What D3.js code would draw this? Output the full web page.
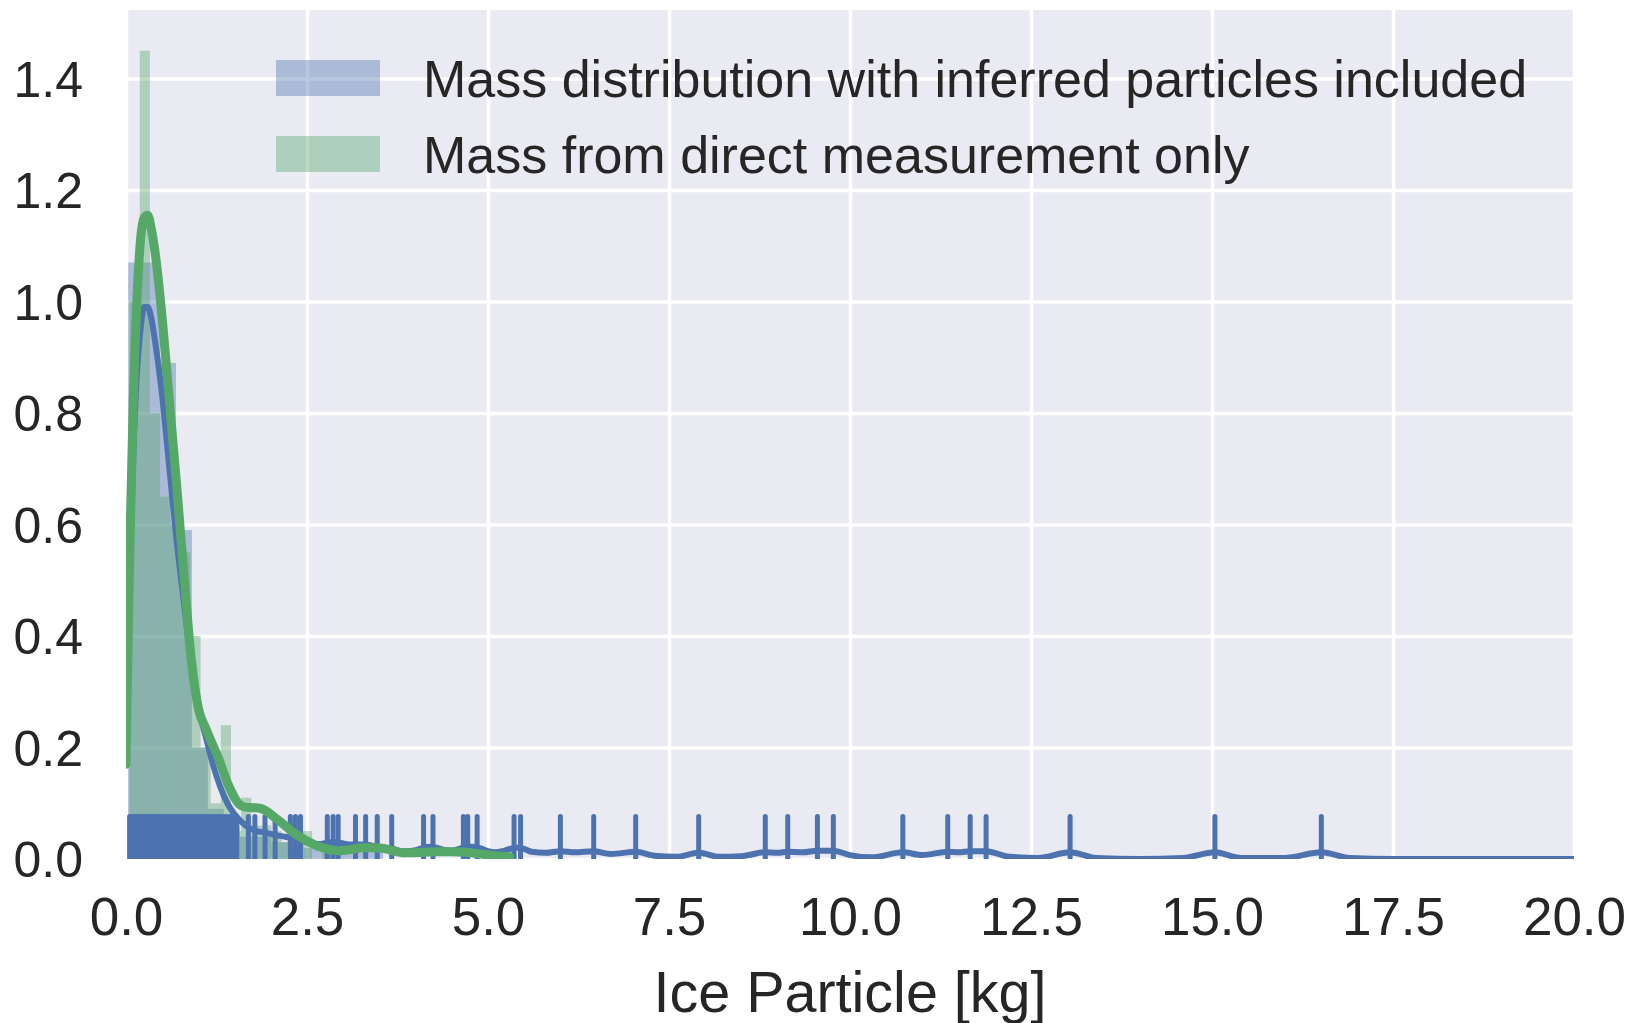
<!DOCTYPE html>
<html>
<head>
<meta charset="utf-8">
<script src="https://cdn.jsdelivr.net/npm/d3@7"></script>
<style>
  html, body { margin: 0; padding: 0; background: #ffffff; }
  svg text { font-family: "Liberation Sans", Arial, Helvetica, sans-serif; fill: #262626; }
</style>
</head>
<body>
<svg id="chart" width="1637" height="1023"></svg>
<script>
// ---- data ----
const xTicks = [0, 2.5, 5, 7.5, 10, 12.5, 15, 17.5, 20];
const yTicks = [0, 0.2, 0.4, 0.6, 0.8, 1.0, 1.2, 1.4];
const seriesNames = ["Mass distribution with inferred particles included", "Mass from direct measurement only"];

// histogram of all particles (bin left edges, shared width, density heights)
const blueBinStart = [0.03, 0.25, 0.47, 0.69, 0.91, 1.13, 1.35, 1.57, 1.79, 2.01, 2.23, 2.45, 2.67, 2.89, 3.11, 3.33];
const blueBinWidth = 0.22;
const blueHeights = [1.07, 1.07, 0.89, 0.59, 0.2, 0.09, 0.06, 0.04, 0.04, 0.03, 0.04, 0.02, 0.03, 0.03, 0.02, 0.02];

// histogram of directly measured particles
const greenBinStart = [0.05, 0.19, 0.33, 0.47, 0.61, 0.75, 0.89, 1.03, 1.17, 1.31, 1.45, 1.59, 1.73, 1.87, 2.01, 2.15, 2.29, 2.43, 2.57, 2.71];
const greenBinWidth = 0.14;
const greenHeights = [1.0, 1.45, 0.8, 0.65, 0.6, 0.55, 0.4, 0.2, 0.1, 0.24, 0.05, 0.11, 0.06, 0.06, 0.05, 0.03, 0.02, 0.05, 0.0, 0.02];

// kernel density estimate, all particles
const blueKdeX = [0, 0.05, 0.1, 0.15, 0.2, 0.25, 0.3, 0.35, 0.4, 0.5, 0.6, 0.7, 0.8, 0.9, 1.0, 1.1, 1.2, 1.3, 1.4, 1.5, 1.6, 1.7, 1.8, 1.9, 2.0, 2.1, 2.2, 2.3, 2.4, 2.5, 2.6, 2.7, 2.8, 2.9, 3.0, 3.1, 3.2, 3.3, 3.4, 3.5, 3.6, 3.7, 3.8, 3.9, 4.0, 4.1, 4.2, 4.3, 4.4, 4.5, 4.6, 4.7, 4.8, 4.9, 5.0, 5.1, 5.2, 5.3, 5.4, 5.5, 5.6, 5.8, 6.0, 6.2, 6.45, 6.7, 7.04, 7.3, 7.6, 7.91, 8.2, 8.5, 8.83, 9.0, 9.14, 9.35, 9.55, 9.77, 10.0, 10.3, 10.73, 11.0, 11.35, 11.5, 11.66, 11.88, 12.2, 12.6, 13.04, 13.4, 14.0, 14.6, 15.04, 15.4, 16.0, 16.51, 16.9, 17.5, 20];
const blueKdeY = [0.25, 0.5, 0.72, 0.87, 0.95, 0.99, 0.99, 0.97, 0.93, 0.83, 0.7, 0.57, 0.46, 0.35, 0.27, 0.22, 0.17, 0.13, 0.1, 0.08, 0.066, 0.056, 0.05, 0.048, 0.045, 0.042, 0.04, 0.038, 0.035, 0.03, 0.027, 0.027, 0.03, 0.03, 0.028, 0.026, 0.026, 0.026, 0.024, 0.022, 0.02, 0.018, 0.014, 0.014, 0.016, 0.02, 0.022, 0.02, 0.016, 0.015, 0.018, 0.022, 0.022, 0.019, 0.014, 0.012, 0.014, 0.018, 0.02, 0.018, 0.013, 0.011, 0.014, 0.012, 0.014, 0.009, 0.013, 0.006, 0.004, 0.011, 0.004, 0.005, 0.012, 0.011, 0.013, 0.012, 0.015, 0.015, 0.007, 0.003, 0.012, 0.007, 0.013, 0.012, 0.014, 0.014, 0.004, 0.002, 0.012, 0.002, 0.0, 0.002, 0.012, 0.002, 0.002, 0.012, 0.002, 0.0, 0.0];

// kernel density estimate, directly measured particles
const greenKdeX = [0, 0.03, 0.06, 0.1, 0.15, 0.2, 0.25, 0.3, 0.35, 0.4, 0.5, 0.6, 0.7, 0.8, 0.9, 1.0, 1.1, 1.18, 1.28, 1.37, 1.46, 1.55, 1.65, 1.75, 1.85, 1.95, 2.05, 2.15, 2.25, 2.35, 2.45, 2.55, 2.65, 2.75, 2.85, 2.95, 3.05, 3.15, 3.25, 3.35, 3.45, 3.55, 3.65, 3.75, 3.85, 3.95, 4.1, 4.3, 4.5, 4.7, 4.9, 5.1, 5.3];
const greenKdeY = [0.17, 0.4, 0.6, 0.82, 1.0, 1.11, 1.15, 1.155, 1.13, 1.09, 0.97, 0.82, 0.67, 0.51, 0.36, 0.27, 0.235, 0.21, 0.18, 0.147, 0.12, 0.1, 0.093, 0.092, 0.091, 0.085, 0.075, 0.065, 0.054, 0.044, 0.036, 0.029, 0.023, 0.019, 0.016, 0.015, 0.016, 0.018, 0.02, 0.02, 0.02, 0.019, 0.016, 0.013, 0.011, 0.011, 0.012, 0.013, 0.013, 0.012, 0.009, 0.006, 0.004];

// individual particle masses shown as a rug
const rugValues = [0.05, 0.08, 0.1, 0.13, 0.16, 0.19, 0.21, 0.24, 0.27, 0.3, 0.32, 0.35, 0.38, 0.41, 0.44, 0.46, 0.5, 0.53, 0.55, 0.58, 0.62, 0.65, 0.68, 0.71, 0.74, 0.77, 0.8, 0.84, 0.87, 0.9, 0.93, 0.97, 1.0, 1.03, 1.06, 1.1, 1.13, 1.16, 1.2, 1.23, 1.27, 1.3, 1.34, 1.37, 1.41, 1.45, 1.49, 1.53, 1.69, 1.78, 1.92, 2.06, 2.27, 2.34, 2.41, 2.78, 2.86, 2.93, 3.17, 3.31, 3.47, 3.67, 4.11, 4.24, 4.66, 4.72, 4.85, 5.36, 5.45, 6.0, 6.46, 7.04, 7.91, 8.83, 9.14, 9.55, 9.77, 10.73, 11.35, 11.66, 11.88, 13.04, 15.04, 16.51];

// ---- layout ----
const plot = { left: 126, right: 1574, top: 10, bottom: 859 };
const yMax = 1.523;
const blue = "#4c72b0", green = "#55a868";

const svg = d3.select("#chart");
const x = d3.scaleLinear().domain([0, 20]).range([plot.left, plot.right]);
const y = d3.scaleLinear().domain([0, yMax]).range([plot.bottom, plot.top]);

svg.append("defs").append("clipPath").attr("id", "plotClip")
  .append("rect").attr("x", plot.left).attr("y", plot.top)
  .attr("width", plot.right - plot.left).attr("height", plot.bottom - plot.top);

// background
svg.append("rect").attr("x", plot.left).attr("y", plot.top)
  .attr("width", plot.right - plot.left).attr("height", plot.bottom - plot.top)
  .attr("fill", "#eaeaf2");

// grid lines via axes
const gx = svg.append("g").attr("transform", `translate(0,${plot.bottom})`)
  .call(d3.axisBottom(x).tickValues(xTicks).tickSize(-(plot.bottom - plot.top)).tickFormat(d3.format(".1f")).tickPadding(38));
const gy = svg.append("g").attr("transform", `translate(${plot.left},0)`)
  .call(d3.axisLeft(y).tickValues(yTicks).tickSize(-(plot.right - plot.left)).tickFormat(d3.format(".1f")).tickPadding(43));
[gx, gy].forEach(g => {
  g.select(".domain").remove();
  g.selectAll(".tick line").attr("stroke", "#ffffff").attr("stroke-width", 3.5);
  g.selectAll(".tick text").attr("fill", "#262626");
});
gy.selectAll(".tick text").attr("font-size", 50).attr("dy", "0.35em");
gx.selectAll(".tick text").attr("font-size", 53).attr("dy", "0.72em");

const body = svg.append("g").attr("clip-path", "url(#plotClip)");

// histogram bars (drawn first, beneath all lines)
function bars(starts, width, heights, color) {
  body.append("g").selectAll("rect").data(starts.map((s, i) => ({ s, h: heights[i] })))
    .join("rect")
    .attr("x", d => x(d.s))
    .attr("width", d => x(d.s + width) - x(d.s))
    .attr("y", d => y(d.h))
    .attr("height", d => y(0) - y(d.h))
    .attr("fill", color).attr("fill-opacity", 0.4);
}
bars(blueBinStart, blueBinWidth, blueHeights, blue);
bars(greenBinStart, greenBinWidth, greenHeights, green);

const line = d3.line().x(d => x(d[0])).y(d => y(d[1])).curve(d3.curveMonotoneX);

// KDE of all particles
body.append("path").datum(blueKdeX.map((v, i) => [v, blueKdeY[i]]))
  .attr("d", line).attr("fill", "none").attr("stroke", blue).attr("stroke-width", 6)
  .attr("stroke-linejoin", "round");

// rug
body.append("g").selectAll("line").data(rugValues).join("line")
  .attr("x1", d => x(d)).attr("x2", d => x(d))
  .attr("y1", y(0)).attr("y2", y(0.05 * yMax))
  .attr("stroke", blue).attr("stroke-width", 5).attr("stroke-linecap", "round");

// KDE of directly measured particles
body.append("path").datum(greenKdeX.map((v, i) => [v, greenKdeY[i]]))
  .attr("d", line).attr("fill", "none").attr("stroke", green).attr("stroke-width", 9)
  .attr("stroke-linejoin", "round").attr("stroke-linecap", "round");

// legend
const legend = svg.append("g");
[blue, green].forEach((c, i) => {
  const cy = 78 + i * 76;
  legend.append("rect").attr("x", 276).attr("y", cy - 18).attr("width", 104).attr("height", 36)
    .attr("fill", c).attr("fill-opacity", 0.4);
  legend.append("text").attr("x", 423).attr("y", cy + 19).attr("font-size", 52).text(seriesNames[i]);
});

// axis title
svg.append("text").attr("x", (plot.left + plot.right) / 2).attr("y", 1012)
  .attr("text-anchor", "middle").attr("font-size", 57.5).text("Ice Particle [kg]");
</script>
</body>
</html>
